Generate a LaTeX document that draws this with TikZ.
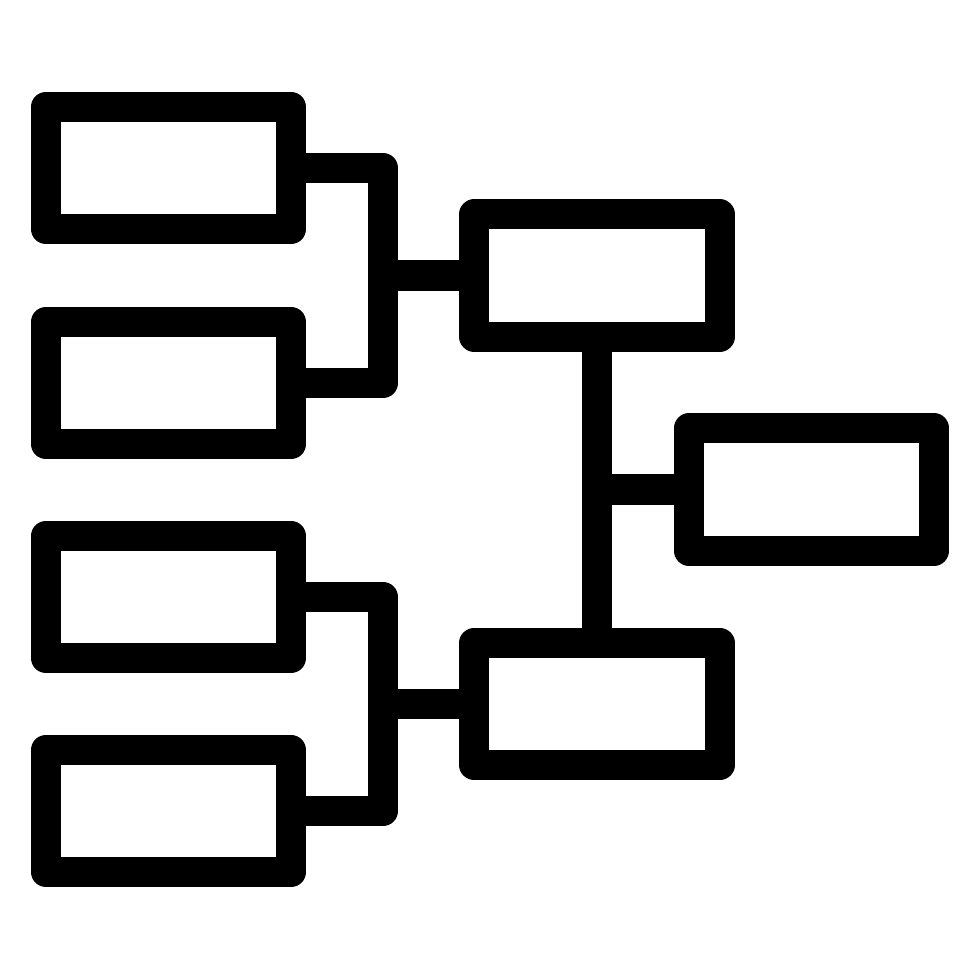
\documentclass[tikz,border=0pt]{standalone}
\usepackage{tikz}

\tikzset{
  slot/.style={draw, line width=0.3cm, line join=round, inner sep=0pt,
    minimum width=2.45cm, minimum height=1.22cm},
  wire/.style={line width=0.3cm, line join=round}
}

\begin{document}
\begin{tikzpicture}[x=0.01cm, y=-0.01cm]
      \useasboundingbox (0, 0) rectangle (980, 980);
      % first round
      \node[slot] (r1a) at (168.5, 168) {};
      \node[slot] (r1b) at (168.5, 383) {};
      \node[slot] (r1c) at (168.5, 597) {};
      \node[slot] (r1d) at (168.5, 811) {};
      % semi final and final
      \node[slot] (semA) at (597, 275.5) {};
      \node[slot] (semB) at (597, 704) {};
      \node[slot] (fin) at (811.5, 489.5) {};
      \coordinate (jA) at (383, 275.5);
      \coordinate (jB) at (383, 704);
      \coordinate (jF) at (597, 489.5);
      \draw[wire] (r1a.east) -| (jA) |- (r1b.east);
      \draw[wire] (jA) -- (semA.west);
      \draw[wire] (r1c.east) -| (jB) |- (r1d.east);
      \draw[wire] (jB) -- (semB.west);
      \draw[wire] (semA.south) -- (semB.north);
      \draw[wire] (jF) -- (fin.west);
\end{tikzpicture}
\end{document}
